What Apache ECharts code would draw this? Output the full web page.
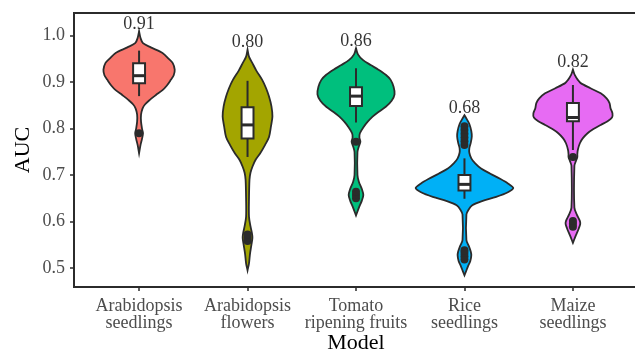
<!DOCTYPE html>
<html>
<head>
<meta charset="utf-8">
<script src="https://cdn.jsdelivr.net/npm/echarts@6/dist/echarts.min.js"></script>
<style>
  html, body { margin: 0; padding: 0; background: #fff; }
  #chart { width: 635px; height: 352px; }
</style>
</head>
<body>
<div id="chart"></div>
<script>
// Model names (x categories)
const categories = [
  'Arabidopsis\nseedlings',
  'Arabidopsis\nflowers',
  'Tomato\nripening fruits',
  'Rice\nseedlings',
  'Maize\nseedlings'
];

// AUC printed above each violin
const meanAUC = [0.91, 0.80, 0.86, 0.68, 0.82];

// y tick values
const yTicks = [0.5, 0.6, 0.7, 0.8, 0.9, 1.0];

// Kernel density outlines: [AUC, relative density] from top to bottom
const densAthSeedlings = [
  [1.010, 0], [0.995, 0.03], [0.984, 0.08], [0.975, 0.24], [0.963, 0.48],
  [0.950, 0.61], [0.941, 0.69], [0.927, 0.73], [0.915, 0.71], [0.905, 0.65],
  [0.893, 0.57], [0.883, 0.48], [0.872, 0.34], [0.862, 0.22], [0.852, 0.12],
  [0.843, 0.07], [0.830, 0.04], [0.815, 0.04], [0.800, 0.06], [0.790, 0.08],
  [0.778, 0.06], [0.765, 0.03], [0.747, 0]
];
const densAthFlowers = [
  [0.970, 0], [0.955, 0.03], [0.941, 0.10], [0.925, 0.18], [0.905, 0.30],
  [0.887, 0.38], [0.869, 0.44], [0.848, 0.49], [0.826, 0.51], [0.805, 0.48],
  [0.782, 0.44], [0.765, 0.36], [0.747, 0.26], [0.732, 0.16], [0.718, 0.10],
  [0.705, 0.06], [0.690, 0.04], [0.650, 0.03], [0.610, 0.03], [0.590, 0.06],
  [0.575, 0.09], [0.565, 0.10], [0.550, 0.08], [0.530, 0.05], [0.510, 0.03],
  [0.495, 0]
];
const densTomato = [
  [0.973, 0], [0.960, 0.04], [0.948, 0.14], [0.937, 0.30], [0.927, 0.46],
  [0.916, 0.61], [0.905, 0.71], [0.890, 0.77], [0.874, 0.79], [0.860, 0.73],
  [0.847, 0.61], [0.836, 0.46], [0.826, 0.34], [0.815, 0.24], [0.804, 0.16],
  [0.790, 0.08], [0.780, 0.07], [0.772, 0.09], [0.762, 0.06], [0.750, 0.03],
  [0.700, 0.03], [0.685, 0.06], [0.670, 0.12], [0.657, 0.15], [0.645, 0.12],
  [0.630, 0.06], [0.613, 0]
];
const densRice = [
  [0.829, 0], [0.820, 0.05], [0.810, 0.10], [0.795, 0.14], [0.783, 0.15],
  [0.770, 0.13], [0.758, 0.10], [0.748, 0.10], [0.736, 0.14], [0.725, 0.22],
  [0.714, 0.34], [0.703, 0.53], [0.692, 0.73], [0.682, 0.89], [0.672, 1.00],
  [0.663, 0.89], [0.653, 0.65], [0.644, 0.36], [0.635, 0.16], [0.625, 0.08],
  [0.615, 0.04], [0.560, 0.04], [0.547, 0.09], [0.535, 0.13], [0.527, 0.14],
  [0.515, 0.12], [0.503, 0.07], [0.492, 0.03], [0.484, 0]
];
const densMaize = [
  [0.927, 0], [0.915, 0.04], [0.905, 0.10], [0.898, 0.16], [0.887, 0.36],
  [0.876, 0.57], [0.865, 0.69], [0.855, 0.75], [0.844, 0.77], [0.833, 0.81],
  [0.824, 0.80], [0.816, 0.71], [0.808, 0.57], [0.799, 0.42], [0.790, 0.30],
  [0.779, 0.20], [0.768, 0.14], [0.754, 0.10], [0.745, 0.09], [0.739, 0.09],
  [0.730, 0.06], [0.720, 0.03], [0.630, 0.03], [0.615, 0.08], [0.602, 0.14],
  [0.595, 0.15], [0.585, 0.12], [0.570, 0.06], [0.554, 0]
];
const densities = [densAthSeedlings, densAthFlowers, densTomato, densRice, densMaize];

// Box statistics: [lower whisker, Q1, median, Q3, upper whisker]
const boxStats = [
  [0.870, 0.898, 0.914, 0.941, 0.968],
  [0.739, 0.779, 0.808, 0.846, 0.903],
  [0.813, 0.849, 0.870, 0.889, 0.930],
  [0.649, 0.667, 0.680, 0.700, 0.736],
  [0.754, 0.816, 0.824, 0.855, 0.894]
];

// Outlying AUC values per model
const outliers = [
  [0.790],
  [0.558, 0.565, 0.572],
  [0.772, 0.650, 0.657, 0.664],
  [0.765, 0.773, 0.781, 0.789, 0.797, 0.805, 0.518, 0.525, 0.532, 0.538],
  [0.739, 0.589, 0.595, 0.601]
];

const fills = ['#F8766D', '#A3A500', '#00BF7D', '#00B0F6', '#E76BF3'];
const ink = '#2b2b2b';
const HALF_WIDTH = 0.45;   // violin half-width (x units) at relative density 1
const BOX_HALF = 0.055;    // boxplot half-width (x units)
const serif = 'Liberation Serif';

const chart = echarts.init(document.getElementById('chart'), null, { renderer: 'canvas' });

function renderViolin(params, api) {
  const i = params.dataIndex;
  const prof = densities[i];
  const pts = [];
  for (let k = 0; k < prof.length; k++) {
    pts.push(api.coord([i + prof[k][1] * HALF_WIDTH, prof[k][0]]));
  }
  for (let k = prof.length - 1; k >= 0; k--) {
    pts.push(api.coord([i - prof[k][1] * HALF_WIDTH, prof[k][0]]));
  }
  return {
    type: 'polygon',
    shape: { points: pts, smooth: 0.3 },
    style: { fill: fills[i], stroke: ink, lineWidth: 1.8 }
  };
}

function renderBox(params, api) {
  const i = params.dataIndex;
  const [lo, q1, med, q3, hi] = boxStats[i];
  const pLo = api.coord([i, lo]);
  const pQ1 = api.coord([i, q1]);
  const pMed = api.coord([i, med]);
  const pQ3 = api.coord([i, q3]);
  const pHi = api.coord([i, hi]);
  const left = api.coord([i - BOX_HALF, med])[0];
  const right = api.coord([i + BOX_HALF, med])[0];
  const lineStyle = { stroke: ink, lineWidth: 2 };
  return {
    type: 'group',
    children: [
      { type: 'line', shape: { x1: pHi[0], y1: pHi[1], x2: pQ3[0], y2: pQ3[1] }, style: lineStyle },
      { type: 'line', shape: { x1: pQ1[0], y1: pQ1[1], x2: pLo[0], y2: pLo[1] }, style: lineStyle },
      { type: 'rect', shape: { x: left, y: pQ3[1], width: right - left, height: pQ1[1] - pQ3[1] },
        style: { fill: '#ffffff', stroke: ink, lineWidth: 2 } },
      { type: 'line', shape: { x1: left, y1: pMed[1], x2: right, y2: pMed[1] },
        style: { stroke: ink, lineWidth: 3 } }
    ]
  };
}

const outlierPoints = [];
outliers.forEach((vals, i) => vals.forEach(v => outlierPoints.push([i, v])));

const labelPoints = meanAUC.map((m, i) => [i, densities[i][0][0], m]);

const tickIdx = categories.map((_, i) => i);

chart.setOption({
  animation: false,
  backgroundColor: '#ffffff',
  grid: {
    left: 74, right: -3, top: 13, bottom: 65,
    containLabel: false,
    outerBoundsMode: 'none',
    show: true, borderColor: ink, borderWidth: 2, backgroundColor: 'transparent'
  },
  xAxis: {
    type: 'value',
    min: -0.6, max: 4.6,
    name: 'Model',
    nameLocation: 'middle',
    nameGap: 45,
    nameMoveOverlap: false,
    nameTextStyle: { fontFamily: serif, fontSize: 22, color: '#000' },
    axisLine: { show: false, onZero: false },
    splitLine: { show: false },
    axisTick: { show: true, length: 4, customValues: tickIdx, lineStyle: { color: ink, width: 1.5 } },
    axisLabel: {
      customValues: tickIdx,
      formatter: v => categories[Math.round(v)],
      fontFamily: serif, fontSize: 18, color: '#4d4d4d', lineHeight: 17, margin: 11
    }
  },
  yAxis: {
    type: 'value',
    min: 0.459, max: 1.049,
    name: 'AUC',
    nameLocation: 'middle',
    nameGap: 40,
    nameMoveOverlap: false,
    nameTextStyle: { fontFamily: serif, fontSize: 22, color: '#000' },
    axisLine: { show: false, onZero: false },
    splitLine: { show: false },
    axisTick: { show: true, length: 4, customValues: yTicks, lineStyle: { color: ink, width: 1.5 } },
    axisLabel: {
      customValues: yTicks,
      formatter: v => v.toFixed(1),
      fontFamily: serif, fontSize: 18, color: '#4d4d4d', margin: 9
    }
  },
  series: [
    {
      type: 'custom',
      name: 'violin',
      renderItem: renderViolin,
      data: densities.map((_, i) => [i, boxStats[i][2]]),
      clip: false,
      z: 2
    },
    {
      type: 'custom',
      name: 'box',
      renderItem: renderBox,
      data: boxStats.map((b, i) => [i, b[2]]),
      clip: false,
      z: 3
    },
    {
      type: 'scatter',
      name: 'outliers',
      data: outlierPoints,
      symbol: 'circle',
      symbolSize: 8,
      itemStyle: { color: ink, opacity: 1 },
      z: 4
    },
    {
      type: 'scatter',
      name: 'auc-label',
      data: labelPoints,
      symbolSize: 0,
      label: {
        show: true,
        position: 'top',
        distance: -2,
        formatter: p => p.value[2].toFixed(2),
        fontFamily: serif, fontSize: 18, color: '#000'
      },
      z: 5
    }
  ]
});
</script>
</body>
</html>
